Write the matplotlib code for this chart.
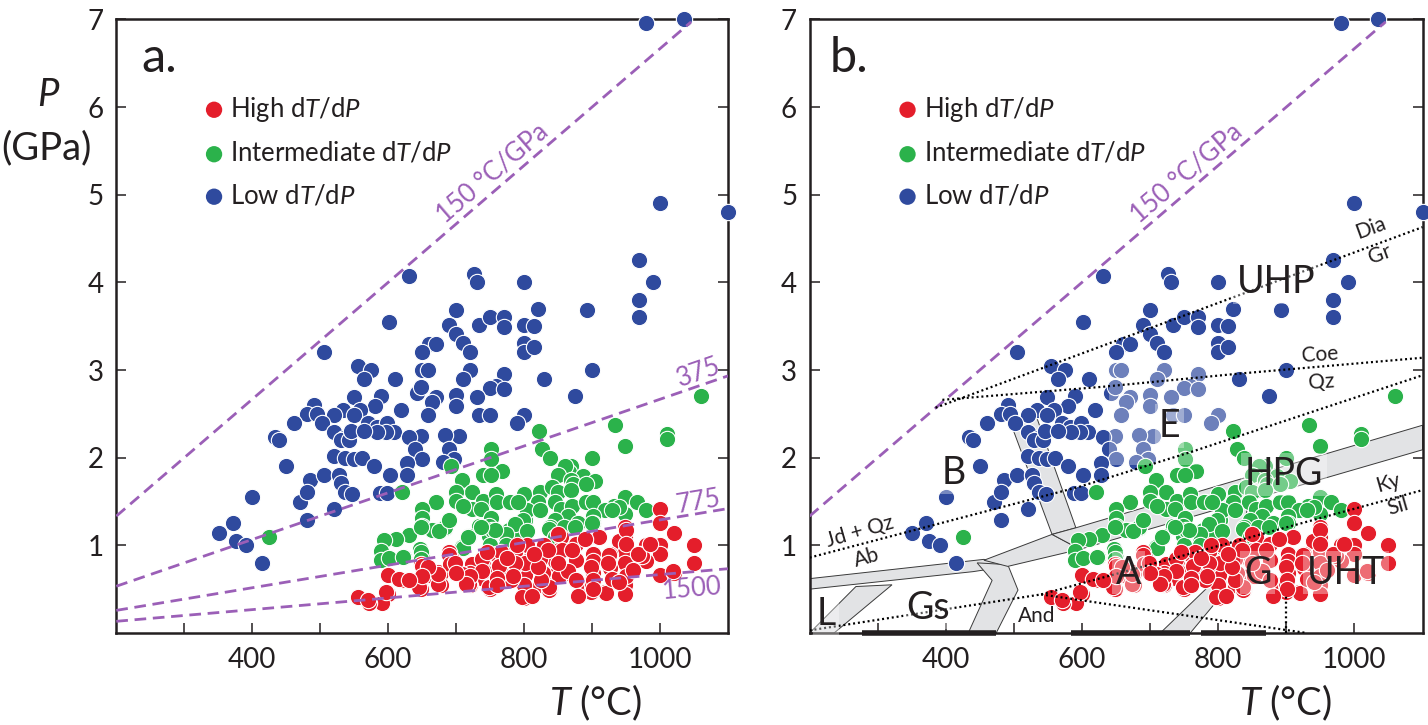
import numpy as np
import matplotlib
matplotlib.use("Agg")
import matplotlib.pyplot as plt
from matplotlib.patches import Polygon, Rectangle

plt.rcParams['font.family'] = ['Lato', 'DejaVu Sans']
plt.rcParams['mathtext.fontset'] = 'custom'
plt.rcParams['mathtext.rm'] = 'Lato'
plt.rcParams['mathtext.it'] = 'Lato:italic'

# ---------------- data (T in deg C, P in GPa) ----------------
blue_pts = [
    (980, 6.96), (1035, 7.0), (1000, 4.9), (1100, 4.8),
    (631, 4.07), (727, 4.10), (731, 4.0), (800, 4.0), (969, 4.25), (990, 4.0), (969, 3.8), (969, 3.6),
    (601, 3.55), (700, 3.69), (821, 3.7), (892, 3.68),
    (689, 3.51), (700, 3.41), (733, 3.51), (750, 3.6), (771, 3.6), (771, 3.49), (800, 3.51), (815, 3.5),
    (800, 3.31), (800, 3.2), (815, 3.26),
    (660, 3.30), (670, 3.30), (650, 3.2), (710, 3.31), (720, 3.2),
    (505, 3.2),
    (555, 3.05), (575, 3.0), (565, 2.9), (610, 2.9),
    (650, 3.0), (658, 3.0), (721, 3.0), (710, 2.9),
    (771, 2.95), (758, 2.82), (750, 2.8), (771, 2.78), (830, 2.9), (900, 3.0), (875, 2.7),
    (642, 2.74), (649, 2.81), (670, 2.69), (664, 2.63), (700, 2.71), (700, 2.59), (731, 2.69),
    (549, 2.69), (589, 2.70), (580, 2.59),
    (491, 2.6), (481, 2.5), (495, 2.5),
    (534, 2.54), (520, 2.49), (559, 2.54), (549, 2.49), (619, 2.54), (658, 2.49), (734, 2.49),
    (750, 2.49), (800, 2.49), (790, 2.39),
    (461, 2.4), (502, 2.4), (520, 2.29), (535, 2.23),
    (570, 2.39), (583, 2.35), (598, 2.39), (609, 2.29), (597, 2.29), (584, 2.29),
    (649, 2.25), (704, 2.25),
    (434, 2.24), (440, 2.2),
    (530, 2.20), (542, 2.20), (545, 2.30), (565, 2.30),
    (631, 2.24), (684, 2.26),
    (640, 2.1), (650, 1.99), (690, 2.1), (697, 1.99), (680, 1.95),
    (450, 1.9),
    (520, 2.02), (537, 2.0), (549, 1.99), (561, 2.0),
    (579, 1.9), (602, 1.80), (628, 1.94), (628, 1.80),
    (485, 1.75), (505, 1.8), (527, 1.80), (530, 1.71), (537, 1.61), (547, 1.59),
    (588, 1.60), (598, 1.60),
    (400, 1.55), (471, 1.5), (481, 1.61), (520, 1.41), (481, 1.29),
    (351, 1.14), (371, 1.25), (376, 1.05), (391, 1.0), (415, 0.8),
]

green_pts = [
    (1060, 2.7), (934, 2.37), (949, 2.13), (1010, 2.27), (1010, 2.21),
    (822, 2.3), (827, 2.1), (838, 2.0), (900, 2.0),
    (751, 2.1), (751, 1.99), (768, 1.85), (739, 1.80), (751, 1.80),
    (692, 1.90), (709, 1.74), (724, 1.61), (700, 1.61), (700, 1.51), (670, 1.50),
    (739, 1.51), (759, 1.59), (781, 1.50), (795, 1.50), (800, 1.59),
    (650, 1.41), (650, 1.31), (650, 1.22), (674, 1.18), (684, 1.20),
    (630, 1.12), (611, 1.07), (594, 1.06), (589, 0.94), (589, 0.83), (601, 0.85),
    (623, 0.87), (647, 0.96), (650, 0.88),
    (724, 1.41), (736, 1.41), (751, 1.31), (734, 1.22), (748, 1.22),
    (719, 1.11), (709, 0.98), (748, 1.11), (753, 1.18),
    (773, 1.07), (778, 1.18), (792, 1.12), (802, 1.29),
    (621, 1.61), (425, 1.1),
    (869, 1.90), (866, 1.84), (886, 1.79), (905, 1.73),
    (860, 1.9), (850, 1.8), (869, 1.75), (872, 1.7), (891, 1.7),
    (824, 1.61), (841, 1.66), (850, 1.61), (869, 1.63),
    (821, 1.5), (845, 1.5), (855, 1.42), (870, 1.45), (891, 1.5), (902, 1.5),
    (932, 1.45), (949, 1.55), (966, 1.5), (980, 1.4), (919, 1.4), (902, 1.34), (949, 1.36),
    (940, 1.44), (930, 1.40),
    (805, 1.4), (824, 1.4), (864, 1.34), (798, 1.29), (846, 1.29), (880, 1.26), (902, 1.26),
    (838, 1.21), (859, 1.21), (875, 1.21), (837, 1.19), (852, 1.10), (900, 1.25),
    (787, 1.24), (774, 1.13), (805, 1.16), (846, 1.1),
    (750, 1.0), (774, 1.0), (710, 0.97), (718, 1.1), (757, 1.18), (737, 1.21), (665, 1.18),
    (683, 1.21), (649, 1.21), (675, 1.16),
    (690, 1.29), (710, 1.45), (760, 1.5), (779, 1.5), (791, 1.5),
    (649, 0.92), (649, 0.84), (622, 0.87),
]

red_pts = [
    (1050, 1.0), (1050, 0.8), (1000, 1.41), (1000, 1.25), (1020, 1.14), (1000, 1.0), (1000, 0.9),
    (1000, 0.66), (1020, 0.69), (980, 1.0), (980, 0.82), (970, 0.9), (949, 1.21), (949, 1.1),
    (939, 1.05), (949, 0.92), (949, 0.8), (949, 0.55), (949, 0.45), (926, 0.9), (926, 0.74),
    (909, 1.1), (902, 0.9), (902, 0.82), (902, 0.69), (889, 0.55), (919, 0.47), (899, 0.47),
    (878, 1.03), (875, 0.84), (864, 0.69), (855, 1.1), (851, 0.95), (846, 0.82), (846, 0.66),
    (830, 1.0), (824, 0.84), (828, 0.69), (824, 0.55), (838, 0.5), (805, 1.0), (805, 0.82),
    (801, 0.66), (800, 0.55), (800, 0.4), (787, 0.92), (783, 0.74), (780, 0.61), (761, 0.9),
    (757, 0.74), (750, 0.5), (740, 0.82), (737, 0.63), (724, 0.79), (720, 0.69), (720, 0.55),
    (707, 0.66), (694, 0.84), (690, 0.92), (677, 0.69), (677, 0.55), (659, 0.66), (649, 0.79),
    (649, 0.5), (628, 0.61), (620, 0.61), (600, 0.66), (600, 0.45), (591, 0.34), (572, 0.34),
    (555, 0.41),
    (570, 0.38), (597, 0.47), (616, 0.62), (645, 0.52), (650, 0.77), (660, 0.66),
    (674, 0.70), (674, 0.56), (689, 0.89), (691, 0.79), (709, 0.67), (719, 0.56), (741, 0.71),
    (748, 0.52), (758, 0.90), (771, 0.88), (781, 0.68), (786, 0.78), (797, 0.41), (973, 0.88),
    (950, 1.17), (950, 1.01), (950, 0.65), (910, 1.10), (925, 0.89), (920, 0.46),
    (900, 0.55), (899, 0.75), (876, 0.83), (876, 1.02), (856, 0.95), (852, 0.65), (837, 0.49),
    (812, 0.42),
    (968, 0.90), (985, 1.01), (923, 0.80), (901, 0.61), (901, 0.50), (864, 0.71), (876, 0.61),
    (850, 1.13), (850, 0.80), (836, 0.52), (825, 0.61), (802, 0.80), (790, 1.0), (786, 0.80),
    (783, 0.65), (766, 0.92), (763, 0.77), (760, 0.63), (738, 0.84), (738, 0.71), (721, 0.65),
    (715, 0.56), (699, 0.80), (673, 0.67), (659, 0.75), (650, 0.65), (631, 0.61), (1019, 0.71),
    (870, 0.95), (890, 1.07), (930, 0.62), (960, 0.72), (820, 0.75), (835, 0.95), (815, 0.90),
    (775, 0.85), (745, 0.92), (700, 0.68), (760, 0.55), (880, 0.42), (940, 0.58),
]

geotherms = [150, 375, 775, 1500]          # deg C / GPa
geotherm_labels = ['150 °C/GPa', '375', '775', '1500']
geotherm_label_pos = [(753, 5.24), (1057, 2.97), (1057, 1.50), (1047, 0.50)]

# reaction curves (panel b)
dia_gr = ([385, 1100], [2.57, 4.63])
coe_qz = ([395, 632, 832, 1100], [2.66, 2.81, 2.96, 3.14])
jd_ab = ([200, 597, 762, 1100], [0.86, 1.67, 2.07, 2.94])
and_ky = ([200, 540], [0.03, 0.44])
ky_sil = ([540, 1100], [0.44, 1.63])
and_sil = ([540, 930], [0.44, 0.0])
vert900 = ([900, 900], [0.0, 0.42])

# facies boundary bands (panel b)
bands = [
    [(200, 0.0), (236, 0.0), (321, 0.55), (268, 0.53)],
    [(200, 0.50), (200, 0.62), (456, 0.84), (491, 0.76), (440, 0.70)],
    [(446, 0.80), (468, 0.6), (433, 0.0), (474, 0.0), (506, 0.49), (491, 0.78)],
    [(456, 0.83), (556, 1.125), (597, 0.955), (491, 0.76)],
    [(494.5, 2.41), (533, 2.47), (591, 1.2), (556, 1.125)],
    [(556, 1.125), (591, 1.2), (1100, 2.37), (1100, 2.09), (597, 0.955)],
    [(715, 0.0), (759, 0.0), (820, 0.57), (845, 1.5), (815, 1.43), (791, 0.57)],
]
axis_bars = [(277, 474), (584, 759), (775, 870)]

facies = [('UHP', 885, 4.0), ('E', 729, 2.36), ('B', 412, 1.83), ('HPG', 897, 1.81),
          ('A', 668, 0.69), ('G', 858, 0.69), ('UHT', 988, 0.69), ('L', 224, 0.22),
          ('Gs', 374, 0.29)]
rxn_labels = [('Dia', 1024, 4.62, 20), ('Gr', 1037, 4.32, 20), ('Coe', 949, 3.17, 4),
              ('Qz', 952, 2.86, 4), ('Jd + Qz', 274, 1.16, 16), ('Ab', 284, 0.86, 16),
              ('Ky', 1050, 1.71, 16), ('Sil', 1064, 1.44, 16), ('And', 533, 0.19, 0)]

RED = '#E41E2B'
GREEN = '#2BB24B'
BLUE = '#2F4A9E'
PURPLE = '#9B5FB7'
INK = '#231F20'

fig = plt.figure(figsize=(14.28, 7.25), dpi=100)
W, H = 1428.0, 725.0
bot, top = 633.0, 19.4
ax_a = fig.add_axes([116.3 / W, 1 - bot / H, (728 - 116.3) / W, (bot - top) / H])
ax_b = fig.add_axes([809.6 / W, 1 - bot / H, (1422.5 - 809.6) / W, (bot - top) / H])


def style(ax):
    ax.set_xlim(200, 1100)
    ax.set_ylim(0, 7)
    xt = list(range(300, 1001, 100))
    ax.set_xticks(xt)
    ax.set_xticklabels([str(t) if t % 200 == 0 else '' for t in xt])
    ax.set_yticks(range(1, 8))
    ax.tick_params(axis='both', direction='in', length=7, width=1.1, colors=INK,
                   labelsize=20, right=True, top=False)
    ax.tick_params(axis='x', pad=10)
    ax.tick_params(axis='y', pad=9)
    for s in ax.spines.values():
        s.set_linewidth(1.8)
        s.set_color(INK)


def scatter_all(ax):
    hs = []
    for pts, col, lab in [(blue_pts, BLUE, 'Low d$T$/d$P$'),
                          (green_pts, GREEN, 'Intermediate d$T$/d$P$'),
                          (red_pts, RED, 'High d$T$/d$P$')]:
        arr = np.array(pts)
        h = ax.scatter(arr[:, 0], arr[:, 1], s=138, c=col, edgecolors='white',
                       linewidths=0.8, zorder=3, label=lab, clip_on=False)
        hs.append(h)
    leg = ax.legend(handles=hs[::-1], loc='upper left', bbox_to_anchor=(0.1388, 0.8776),
                    frameon=False, fontsize=18.5, handlelength=1.0, handletextpad=0.14,
                    labelspacing=0.68, borderpad=0, borderaxespad=0)
    for t in leg.get_texts():
        t.set_color(INK)
    for h in leg.legend_handles:
        h.set_edgecolor('none')
    return hs


def geotherm(ax, idx):
    g = geotherms[idx]
    T = np.linspace(200, 1100, 200)
    P = T / g
    m = P <= 7.0
    ax.plot(T[m], P[m], color=PURPLE, lw=2.0, ls=(0, (4.2, 2.4)), zorder=4)
    x, y = geotherm_label_pos[idx]
    p1 = ax.transData.transform((200, 200 / g))
    p2 = ax.transData.transform((1000, 1000 / g))
    ang = np.degrees(np.arctan2(p2[1] - p1[1], p2[0] - p1[0]))
    ax.text(x, y, geotherm_labels[idx], color=PURPLE, fontsize=18.5, rotation=ang,
            ha='center', va='center', rotation_mode='anchor', zorder=5)


for ax in (ax_a, ax_b):
    style(ax)

# panel a
scatter_all(ax_a)
for i in range(len(geotherms)):
    geotherm(ax_a, i)

# panel b
for poly in bands:
    ax_b.add_patch(Polygon(poly, closed=True, facecolor='#E2E3E5', edgecolor='#3a3a3a',
                           lw=0.7, zorder=1))
scatter_all(ax_b)
geotherm(ax_b, 0)
ax_b.add_patch(Rectangle((640, 1.92), 172, 1.2, facecolor='white', alpha=0.3,
                         edgecolor='none', zorder=3.5))
for xs, ys in [dia_gr, coe_qz, jd_ab, and_ky, ky_sil, and_sil, vert900]:
    ax_b.plot(xs, ys, color='black', lw=1.6, ls=(0, (0.9, 1.3)), zorder=4)
for lab, x, y in facies:
    ax_b.text(x, y, lab, fontsize=27, color=INK, ha='center', va='center', zorder=7,
              bbox=dict(boxstyle='square,pad=0.1', facecolor='white', alpha=0.35,
                        edgecolor='none'))
for lab, x, y, r in rxn_labels:
    ax_b.text(x, y, lab, fontsize=15, color=INK, ha='center', va='center', rotation=r,
              rotation_mode='anchor', zorder=7)
for x0, x1 in axis_bars:
    ax_b.plot([x0, x1], [0, 0], color=INK, lw=4, solid_capstyle='butt', zorder=8,
              clip_on=False)

# panel letters and axis labels
fig.text(141 / W, 1 - 72 / H, 'a.', fontsize=35, color=INK, ha='left', va='baseline')
fig.text(830 / W, 1 - 72 / H, 'b.', fontsize=35, color=INK, ha='left', va='baseline')
fig.text(48.5 / W, 1 - 95 / H, '$P$', fontsize=27.5, color=INK, ha='center', va='center')
fig.text(46 / W, 1 - 148 / H, '(GPa)', fontsize=27.5, color=INK, ha='center', va='center')
fig.text(595 / W, 1 - 703 / H, '$T$ (°C)', fontsize=27.5, color=INK, ha='center', va='center')
fig.text(1285 / W, 1 - 703 / H, '$T$ (°C)', fontsize=27.5, color=INK, ha='center', va='center')

fig.savefig('out.png', dpi=100)
